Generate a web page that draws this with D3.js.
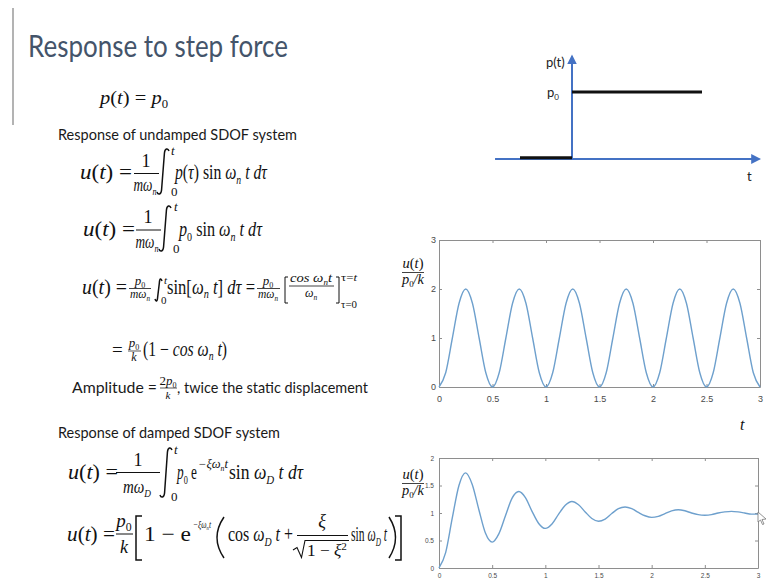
<!DOCTYPE html>
<html>
<head>
  <meta charset="utf-8">
  <title>step-force</title>
  <style>
    * { margin: 0; padding: 0; }
    body { background: #fff; }
    svg text { white-space: pre; }
  </style>
</head>
<body>
  <svg id="svg"></svg>
  <script src="https://cdnjs.cloudflare.com/ajax/libs/d3/7.8.5/d3.min.js"></script>
  <script>
    // time grid (every 1/16 s)
    const tGrid = [0, 0.0625, 0.125, 0.1875, 0.25, 0.3125, 0.375, 0.4375, 0.5, 0.5625, 0.625, 0.6875, 0.75, 0.8125, 0.875, 0.9375,
      1, 1.0625, 1.125, 1.1875, 1.25, 1.3125, 1.375, 1.4375, 1.5, 1.5625, 1.625, 1.6875, 1.75, 1.8125, 1.875, 1.9375,
      2, 2.0625, 2.125, 2.1875, 2.25, 2.3125, 2.375, 2.4375, 2.5, 2.5625, 2.625, 2.6875, 2.75, 2.8125, 2.875, 2.9375, 3];

    // undamped response u/(p0/k)
    const undamped = [0, 0.29, 1, 1.71, 2, 1.71, 1, 0.29, 0, 0.29, 1, 1.71, 2, 1.71, 1, 0.29,
      0, 0.29, 1, 1.71, 2, 1.71, 1, 0.29, 0, 0.29, 1, 1.71, 2, 1.71, 1, 0.29,
      0, 0.29, 1, 1.71, 2, 1.71, 1, 0.29, 0, 0.29, 1, 1.71, 2, 1.71, 1, 0.29, 0];

    // damped response u/(p0/k)
    const damped = [0, 0.28, 0.91, 1.50, 1.73, 1.52, 1.06, 0.63, 0.47, 0.62, 0.95, 1.27, 1.39, 1.28, 1.03, 0.81,
      0.72, 0.80, 0.98, 1.14, 1.21, 1.15, 1.02, 0.90, 0.85, 0.89, 0.99, 1.08, 1.11, 1.08, 1.01, 0.95,
      0.92, 0.94, 0.99, 1.04, 1.06, 1.04, 1.00, 0.97, 0.96, 0.97, 1.00, 1.02, 1.03, 1.02, 1.00, 0.98, 0.98];

    const xTicks = [0, 0.5, 1, 1.5, 2, 2.5, 3];
    const yTicksUndamped = [0, 1, 2, 3];
    const yTicksDamped = [0, 0.5, 1, 1.5, 2];

    // step force p(t): [t0, t1, p]
    const stepSegments = [[-1, 0, 0], [0, 2.5, 1]];

    const W = 768, H = 581;
    const MATH = "'Liberation Serif', 'Times New Roman', serif";
    const SANS = "Lato, 'Open Sans', sans-serif";
    const BLUE = '#4472c4';

    const svg = d3.select('#svg').attr('width', W).attr('height', H);

    function mtext(x, y, parts, o = {}) {
      const size = o.size || 18;
      const t = svg.append('text').attr('x', x).attr('y', y)
        .attr('font-family', o.family || MATH).attr('font-size', size)
        .attr('text-anchor', o.anchor || 'start').attr('fill', o.fill || '#111');
      let cur = 0;
      parts.forEach(p => {
        const [s, f = ''] = typeof p === 'string' ? [p] : p;
        let off = 0, fs = size;
        if (f.includes('_')) { off = size * 0.22; fs = size * 0.62; }
        if (f.includes('^')) { off = -size * 0.38; fs = size * 0.65; }
        const sp = t.append('tspan').text(s).attr('font-size', fs).attr('dy', off - cur);
        cur = off;
        if (f.includes('i')) sp.attr('font-style', 'italic');
      });
      if (o.len) t.attr('textLength', o.len).attr('lengthAdjust', 'spacingAndGlyphs');
      return t;
    }

    function bar(x1, x2, y, w = 1) {
      svg.append('line').attr('x1', x1).attr('x2', x2).attr('y1', y).attr('y2', y)
        .attr('stroke', '#111').attr('stroke-width', w);
    }

    function pth(d, w = 1.3) {
      svg.append('path').attr('d', d).attr('fill', 'none').attr('stroke', '#111').attr('stroke-width', w);
    }

    // integral sign drawn as a stroke
    function integral(x, y0, y1, w = 12) {
      pth(`M${x + w},${y0 + 3} C${x + w - 1},${y0} ${x + w * 0.66},${y0} ${x + w * 0.62},${y0 + 5}
           L${x + w * 0.38},${y1 - 5} C${x + w * 0.34},${y1} ${x + 1},${y1} ${x},${y1 - 3}`, 1.5);
    }

    // slide edge + title
    svg.append('line').attr('x1', 13).attr('x2', 13).attr('y1', 8).attr('y2', 125)
      .attr('stroke', '#9a9a9a').attr('stroke-width', 1.5);
    mtext(28, 57, ['Response to step force'], { family: SANS, size: 31, len: 260, fill: '#44546a' });

    mtext(100, 104, [['p', 'i'], '(', ['t', 'i'], ') = ', ['p', 'i'], ['0', '_']], { size: 19, len: 68 });

    // undamped section
    mtext(58, 140, ['Response of undamped SDOF system'], { family: SANS, size: 15, len: 239, fill: '#1a1a1a' });

    mtext(80, 179, [['u', 'i'], '(', ['t', 'i'], ') ='], { size: 22, len: 52 });
    mtext(146, 167, ['1'], { size: 18, anchor: 'middle' });
    bar(134, 159, 173.5);
    mtext(145, 191, [['mω', 'i'], ['n', 'i_']], { size: 18, anchor: 'middle', len: 23 });
    integral(157, 148, 195);
    mtext(171, 155, [['t', 'i']], { size: 13 });
    mtext(171, 196, ['0'], { size: 13 });
    mtext(175, 179, [['p', 'i'], '(', ['τ', 'i'], ') sin ', ['ω', 'i'], ['n', 'i_'], [' t ', 'i'], ['dτ', 'i']], { size: 21, len: 92 });

    mtext(83, 236, [['u', 'i'], '(', ['t', 'i'], ') ='], { size: 22, len: 52 });
    mtext(148, 223, ['1'], { size: 18, anchor: 'middle' });
    bar(136, 161, 230);
    mtext(147, 248, [['mω', 'i'], ['n', 'i_']], { size: 18, anchor: 'middle', len: 23 });
    integral(159, 205, 252);
    mtext(174, 211, [['t', 'i']], { size: 13 });
    mtext(173, 253, ['0'], { size: 13 });
    mtext(179, 236, [['p', 'i'], ['0', '_'], ' sin ', ['ω', 'i'], ['n', 'i_'], [' t ', 'i'], ['dτ', 'i']], { size: 21, len: 83 });

    mtext(82, 294, [['u', 'i'], '(', ['t', 'i'], ') ='], { size: 20, len: 45 });
    mtext(140, 285, [['p', 'i'], ['0', '_']], { size: 13, anchor: 'middle' });
    bar(129, 151, 288.5, 0.8);
    mtext(140, 298, [['mω', 'i'], ['n', 'i_']], { size: 12, anchor: 'middle', len: 20 });
    integral(155, 278, 302, 7);
    mtext(164, 284, [['t', 'i']], { size: 11 });
    mtext(161, 304, ['0'], { size: 11 });
    mtext(167, 294, ['sin[', ['ω', 'i'], ['n', 'i_'], [' t', 'i'], '] ', ['dτ', 'i'], ' ='], { size: 20, len: 88 });
    mtext(268, 285, [['p', 'i'], ['0', '_']], { size: 13, anchor: 'middle' });
    bar(257, 280, 288.5, 0.8);
    mtext(268, 298, [['mω', 'i'], ['n', 'i_']], { size: 12, anchor: 'middle', len: 20 });
    pth('M288,277 H285 V303 H288', 1);
    mtext(311, 282, [['cos ω', 'i'], ['n', 'i_'], ['t', 'i']], { size: 13, anchor: 'middle', len: 42 });
    bar(289, 334, 286, 0.8);
    mtext(311, 297, [['ω', 'i'], ['n', 'i_']], { size: 12, anchor: 'middle' });
    pth('M336,277 H339 V303 H336', 1);
    mtext(341, 281, ['τ=', ['t', 'i']], { size: 11, len: 16 });
    mtext(341, 308, ['τ=0'], { size: 11, len: 16 });

    mtext(112, 356, ['='], { size: 19 });
    mtext(134, 347, [['p', 'i'], ['0', '_']], { size: 13, anchor: 'middle' });
    bar(128, 141, 351, 0.7);
    mtext(134, 361, [['k', 'i']], { size: 12, anchor: 'middle' });
    mtext(143, 356, ['(1 − ', ['cos ω', 'i'], ['n', 'i_'], [' t', 'i'], ')'], { size: 20, len: 84 });

    mtext(72, 393, ['Amplitude ='], { family: SANS, size: 15, len: 85, fill: '#1a1a1a' });
    mtext(168, 385, ['2', ['p', 'i'], ['0', '_']], { size: 12, anchor: 'middle', len: 17 });
    bar(160, 177, 388, 0.7);
    mtext(168, 399, [['k', 'i']], { size: 11, anchor: 'middle' });
    mtext(177, 393, [', twice the static displacement'], { family: SANS, size: 15, len: 191, fill: '#1a1a1a' });

    // damped section
    mtext(58, 438, ['Response of damped SDOF system'], { family: SANS, size: 15, len: 222, fill: '#1a1a1a' });

    mtext(68, 479, [['u', 'i'], '(', ['t', 'i'], ') ='], { size: 22, len: 50 });
    mtext(138, 466, ['1'], { size: 18, anchor: 'middle' });
    bar(116, 160, 472.5);
    mtext(137, 493, [['mω', 'i'], ['D', 'i_']], { size: 18, anchor: 'middle', len: 28 });
    integral(160, 447, 498);
    mtext(174, 454, [['t', 'i']], { size: 13 });
    mtext(171, 501, ['0'], { size: 13 });
    mtext(177, 479, [['p', 'i'], ['0', '_'], ' e'], { size: 21, len: 20 });
    mtext(198, 468, [['−ξω', 'i'], ['n', 'i_'], ['t', 'i']], { size: 12, len: 30 });
    mtext(229, 479, ['sin ', ['ω', 'i'], ['D', 'i_'], [' t ', 'i'], ['dτ', 'i']], { size: 21, len: 74 });

    mtext(67, 541, [['u', 'i'], '(', ['t', 'i'], ') ='], { size: 22, len: 48 });
    mtext(124, 527, [['p', 'i'], ['0', '_']], { size: 19, anchor: 'middle' });
    bar(116, 133, 534);
    mtext(124, 553, [['k', 'i']], { size: 18, anchor: 'middle' });
    pth('M142,516 H136 V560 H142', 1.5);
    mtext(144, 541, ['1 − e'], { size: 21, len: 47 });
    mtext(193, 528, [['−ξω', 'i'], ['n', 'i_'], ['t', 'i']], { size: 10, len: 18 });
    pth('M224,517 Q210,537.5 224,558', 1.5);
    mtext(228, 541, ['cos ', ['ω', 'i'], ['D', 'i_'], [' t', 'i'], ' +'], { size: 21, len: 65 });
    mtext(322, 527, [['ξ', 'i']], { size: 18, anchor: 'middle' });
    bar(297, 348, 535.5);
    pth('M293,550 L297,547.5 L301.5,557.5 L305,540.5 H349', 1.1);
    mtext(307, 556, ['1 − ', ['ξ', 'i'], ['2', '^']], { size: 17, len: 40 });
    mtext(351, 541, ['sin ', ['ω', 'i'], ['D', 'i_'], [' t', 'i']], { size: 21, len: 36 });
    pth('M389,517 Q402,537.5 389,558', 1.5);
    pth('M395,516 H401 V560 H395', 1.5);

    // step force sketch
    const defs = svg.append('defs');
    defs.append('marker').attr('id', 'arr').attr('viewBox', '0 0 10 10')
      .attr('refX', 8).attr('refY', 5).attr('markerWidth', 5).attr('markerHeight', 5)
      .attr('orient', 'auto').attr('markerUnits', 'strokeWidth')
      .append('path').attr('d', 'M0,0 L10,5 L0,10 Z').attr('fill', BLUE);

    const sx = d3.scaleLinear().domain([0, 2.5]).range([572, 702]);
    const sy = d3.scaleLinear().domain([0, 1]).range([159, 92]);

    svg.append('line').attr('x1', sx(-1.48)).attr('x2', sx(3.6)).attr('y1', sy(0)).attr('y2', sy(0))
      .attr('stroke', BLUE).attr('stroke-width', 2).attr('marker-end', 'url(#arr)');
    svg.append('line').attr('x1', sx(0)).attr('x2', sx(0)).attr('y1', sy(0)).attr('y2', sy(1.53))
      .attr('stroke', BLUE).attr('stroke-width', 2).attr('marker-end', 'url(#arr)');
    svg.selectAll('.step').data(stepSegments).enter().append('line')
      .attr('x1', d => sx(d[0])).attr('x2', d => sx(d[1]))
      .attr('y1', d => sy(d[2]) - (d[2] === 0 ? 1.2 : 0)).attr('y2', d => sy(d[2]) - (d[2] === 0 ? 1.2 : 0))
      .attr('stroke', '#111').attr('stroke-width', 3);
    mtext(546, 67, ['p(t)'], { family: SANS, size: 13, fill: '#222' });
    mtext(547, 97, ['p', ['0', '_']], { family: SANS, size: 13, fill: '#222' });
    mtext(747, 181, ['t'], { family: SANS, size: 13, fill: '#222' });

    // response plots
    function plot(o) {
      const x = d3.scaleLinear().domain([0, 3]).range([o.left, o.right]);
      const y = d3.scaleLinear().domain(o.yDomain).range([o.bottom, o.top]);
      const g = svg.append('g');
      const fmt = d3.format('');
      const axes = [
        [d3.axisBottom(x).tickValues(xTicks).tickFormat(fmt).tickPadding(o.padX), `translate(0,${o.bottom})`],
        [d3.axisTop(x).tickValues(xTicks).tickFormat(''), `translate(0,${o.top})`],
        [d3.axisLeft(y).tickValues(o.yTicks).tickFormat(fmt).tickPadding(o.padY), `translate(${o.left},0)`],
        [d3.axisRight(y).tickValues(o.yTicks).tickFormat(''), `translate(${o.right},0)`]
      ];
      axes.forEach(([ax, tr]) => {
        const a = g.append('g').attr('transform', tr).call(ax.tickSizeInner(-3).tickSizeOuter(0));
        a.attr('font-family', "'Liberation Sans', Arial, sans-serif").attr('font-size', o.fs);
        a.selectAll('path, line').attr('stroke', '#8e8e8e');
        a.selectAll('text').attr('fill', '#4a4a4a');
      });
      const line = d3.line().x((d, i) => x(tGrid[i])).y(d => y(d)).curve(d3.curveMonotoneX);
      g.append('path').datum(o.data).attr('d', line).attr('fill', 'none')
        .attr('stroke', '#6ea0cd').attr('stroke-width', 1.4);

      mtext(413, o.labY, [['u', 'i'], '(', ['t', 'i'], ')'], { size: 14, anchor: 'middle', len: 21 });
      bar(402, 424, o.labY + 4.5, 0.8);
      mtext(413, o.labY + 16, [['p', 'i'], ['0', '_'], ['/k', 'i']], { size: 14, anchor: 'middle', len: 22 });
      return { x, y };
    }

    plot({ left: 439, right: 760, top: 240, bottom: 387, yDomain: [0, 3], yTicks: yTicksUndamped,
      data: undamped, padX: 9, padY: 3, fs: 9, labY: 268 });
    mtext(740, 430, [['t', 'i']], { size: 16 });

    plot({ left: 439, right: 758, top: 458, bottom: 568, yDomain: [0, 2], yTicks: yTicksDamped,
      data: damped, padX: 5, padY: 5, fs: 6.5, labY: 479 });

    // small pointer glyph at the end of the damped curve
    svg.append('path').attr('d', 'M758,512 L766,519 L762,519.5 L764,524 L762.5,524.5 L760.5,520 L758,522 Z')
      .attr('fill', '#fff').attr('stroke', '#777').attr('stroke-width', 0.8);
  </script>
</body>
</html>
